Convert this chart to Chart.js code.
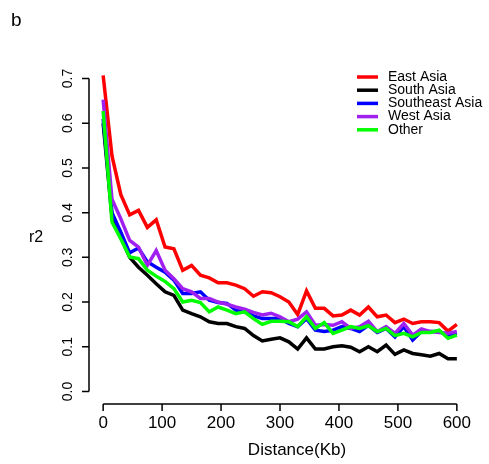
<!DOCTYPE html>
<html>
<head>
<meta charset="utf-8">
<script src="https://cdn.jsdelivr.net/npm/chart.js@4"></script>
<style>
  html, body { margin: 0; padding: 0; background: #fff; }
  #wrap { width: 489px; height: 464px; position: relative; }
</style>
</head>
<body>
<div id="wrap"><canvas id="myChart" width="489" height="464"></canvas></div>
<script>
// distance (Kb) of each bin
const distance = [0, 15, 30, 45, 60, 75, 90, 105, 120, 135, 150, 165, 180, 195, 210, 225, 240, 255, 270, 285,
  300, 315, 330, 345, 360, 375, 390, 405, 420, 435, 450, 465, 480, 495, 510, 525, 540, 555, 570, 585, 600];

const eastAsia = [0.707, 0.527, 0.44, 0.395, 0.405, 0.367, 0.384, 0.323, 0.319, 0.271, 0.282, 0.26, 0.254, 0.243,
  0.243, 0.238, 0.23, 0.213, 0.223, 0.221, 0.212, 0.2, 0.172, 0.225, 0.186, 0.186, 0.169, 0.171, 0.182, 0.171,
  0.189, 0.167, 0.171, 0.154, 0.162, 0.152, 0.156, 0.156, 0.154, 0.135, 0.15];

const southAsia = [0.6, 0.39, 0.345, 0.3, 0.278, 0.26, 0.241, 0.223, 0.215, 0.182, 0.174, 0.167, 0.156, 0.152,
  0.152, 0.145, 0.141, 0.125, 0.113, 0.117, 0.12, 0.111, 0.095, 0.12, 0.095, 0.095, 0.1, 0.102, 0.099, 0.089,
  0.1, 0.089, 0.104, 0.083, 0.093, 0.085, 0.082, 0.079, 0.085, 0.073, 0.073];

const southeastAsia = [0.61, 0.4, 0.356, 0.31, 0.321, 0.29, 0.278, 0.267, 0.249, 0.219, 0.219, 0.223, 0.204, 0.199,
  0.197, 0.182, 0.178, 0.169, 0.163, 0.163, 0.163, 0.152, 0.145, 0.163, 0.137, 0.134, 0.137, 0.145, 0.141, 0.134,
  0.148, 0.132, 0.141, 0.122, 0.145, 0.115, 0.134, 0.134, 0.134, 0.126, 0.13];

const westAsia = [0.653, 0.43, 0.386, 0.338, 0.323, 0.282, 0.315, 0.271, 0.252, 0.23, 0.223, 0.208, 0.208, 0.2,
  0.195, 0.189, 0.184, 0.177, 0.171, 0.175, 0.167, 0.156, 0.162, 0.178, 0.148, 0.15, 0.148, 0.156, 0.141, 0.145,
  0.157, 0.134, 0.145, 0.13, 0.152, 0.126, 0.14, 0.134, 0.132, 0.13, 0.134];

const other = [0.627, 0.379, 0.341, 0.301, 0.297, 0.271, 0.258, 0.246, 0.23, 0.2, 0.204, 0.199, 0.178, 0.189,
  0.182, 0.174, 0.178, 0.163, 0.15, 0.157, 0.157, 0.156, 0.145, 0.167, 0.141, 0.154, 0.13, 0.137, 0.145, 0.141,
  0.147, 0.134, 0.141, 0.125, 0.13, 0.122, 0.132, 0.132, 0.137, 0.119, 0.126];

const seriesNames = ['East Asia', 'South Asia', 'Southeast Asia', 'West Asia', 'Other'];
const seriesColors = ['#ff0000', '#000000', '#0000ff', '#a020f0', '#00ff00'];
const xTicks = [0, 100, 200, 300, 400, 500, 600];
const yTicks = [0.0, 0.1, 0.2, 0.3, 0.4, 0.5, 0.6, 0.7];

const FONT = '"Liberation Sans", Arial, sans-serif';

const toPoints = (vals) => vals.map((v, i) => ({ x: distance[i], y: v }));
const allSeries = [eastAsia, southAsia, southeastAsia, westAsia, other];

// R style axes, labels and legend
const rAxes = {
  id: 'rAxes',
  afterDraw(chart) {
    const ctx = chart.ctx;
    const xs = chart.scales.x, ys = chart.scales.y;
    const area = chart.chartArea;
    ctx.save();
    ctx.strokeStyle = '#000';
    ctx.fillStyle = '#000';
    ctx.lineWidth = 1.5;

    // x axis
    let y0 = area.bottom;
    ctx.beginPath();
    ctx.moveTo(xs.getPixelForValue(xTicks[0]), y0);
    ctx.lineTo(xs.getPixelForValue(xTicks[xTicks.length - 1]), y0);
    xTicks.forEach(t => {
      let px = xs.getPixelForValue(t);
      ctx.moveTo(px, y0);
      ctx.lineTo(px, y0 + 7);
    });
    ctx.stroke();
    ctx.font = '17px ' + FONT;
    ctx.textAlign = 'center';
    ctx.textBaseline = 'middle';
    xTicks.forEach(t => ctx.fillText(String(t), xs.getPixelForValue(t), 423));

    // y axis
    let x0 = area.left;
    ctx.beginPath();
    ctx.moveTo(x0, ys.getPixelForValue(yTicks[0]));
    ctx.lineTo(x0, ys.getPixelForValue(yTicks[yTicks.length - 1]));
    yTicks.forEach(t => {
      let py = ys.getPixelForValue(t);
      ctx.moveTo(x0, py);
      ctx.lineTo(x0 - 7, py);
    });
    ctx.stroke();
    ctx.font = '14px ' + FONT;
    yTicks.forEach(t => {
      let py = ys.getPixelForValue(t);
      ctx.save();
      ctx.translate(68, py);
      ctx.rotate(-Math.PI / 2);
      ctx.fillText(t.toFixed(1), 0, 0);
      ctx.restore();
    });

    // axis titles
    ctx.font = '17px ' + FONT;
    ctx.fillText('Distance(Kb)', 297, 450);
    ctx.font = '16px ' + FONT;
    ctx.fillText('r2', 36, 238);
    ctx.font = '19px ' + FONT;
    ctx.textAlign = 'left';
    ctx.fillText('b', 11, 21);

    // legend
    ctx.font = '14px ' + FONT;
    ctx.lineWidth = 3.5;
    chart.data.datasets.forEach((ds, i) => {
      let ly = 77 + i * 13.2;
      ctx.strokeStyle = ds.borderColor;
      ctx.beginPath();
      ctx.moveTo(357, ly);
      ctx.lineTo(378, ly);
      ctx.stroke();
      ctx.fillText(ds.label, 388, ly);
    });
    ctx.restore();
  }
};

const ctx = document.getElementById('myChart').getContext('2d');
const myChart = new Chart(ctx, {
  type: 'line',
  data: {
    datasets: allSeries.map((vals, i) => ({
      label: seriesNames[i],
      data: toPoints(vals),
      borderColor: seriesColors[i],
      backgroundColor: seriesColors[i],
      borderWidth: 3.5,
      pointRadius: 0,
      tension: 0,
      fill: false,
      order: allSeries.length - i
    }))
  },
  options: {
    responsive: false,
    animation: false,
    devicePixelRatio: 1,
    layout: { padding: { left: 89, right: 18, top: 66, bottom: 60 } },
    plugins: { legend: { display: false }, tooltip: { enabled: false } },
    scales: {
      x: { type: 'linear', min: -24, max: 624, display: false },
      y: { type: 'linear', min: -0.028, max: 0.728, display: false }
    }
  },
  plugins: [rAxes]
});
</script>
</body>
</html>
